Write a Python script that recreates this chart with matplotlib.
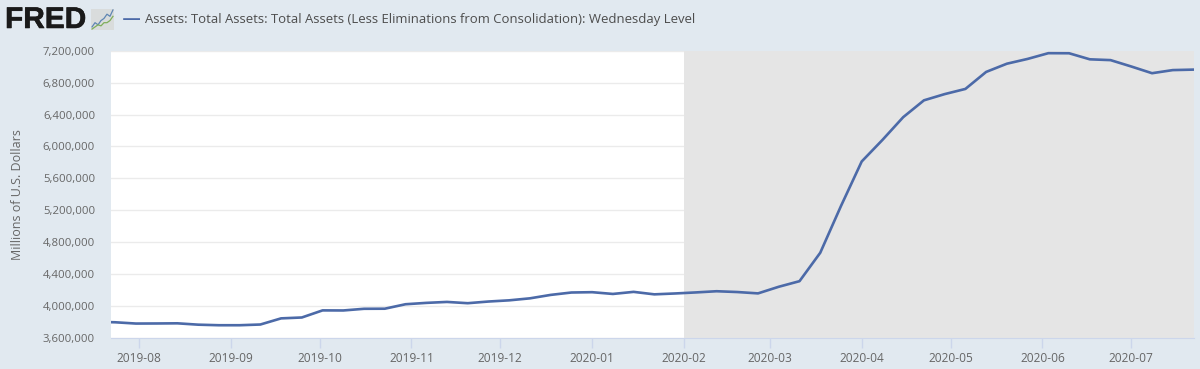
import numpy as np
import pandas as pd
import matplotlib
matplotlib.use('Agg')
import matplotlib.pyplot as plt
import matplotlib.dates as mdates
import matplotlib.patheffects as pe

###########################################################
# data

start_date = '2019-07-17'  # first week is clipped by the axis
assets = [3803000, 3797000, 3781000, 3782000, 3784000, 3767000, 3760000, 3760000,
          3769000, 3846000, 3857000, 3946000, 3945000, 3966000, 3967000, 4023000,
          4040000, 4052000, 4036000, 4057000, 4072000, 4097000, 4140000, 4170000,
          4174000, 4152000, 4178000, 4147000, 4158000, 4171000, 4186000, 4176000,
          4159000, 4242000, 4312000, 4668000, 5254000, 5812000, 6082000, 6367000,
          6578000, 6656000, 6721000, 6934000, 7037000, 7097000, 7169000, 7168000,
          7092000, 7082000, 7002000, 6918000, 6957000, 6963000]
dates = pd.date_range(start_date, periods=len(assets), freq='7D')

yticks = [3600000, 4000000, 4400000, 4800000, 5200000, 5600000, 6000000, 6400000, 6800000, 7200000]
xticks = ['2019-08', '2019-09', '2019-10', '2019-11', '2019-12', '2020-01',
          '2020-02', '2020-03', '2020-04', '2020-05', '2020-06', '2020-07']

recession_start = '2020-02-01'
series_name = 'Assets: Total Assets: Total Assets (Less Eliminations from Consolidation): Wednesday Level'

# little chart icon next to the logo
icon_blue = [1, 3, 2, 4, 5, 7, 6, 9]
icon_green = [0, 1, 2, 1.5, 3, 3, 4, 6]

###########################################################
# plot

plt.rcParams['font.family'] = ['Open Sans', 'DejaVu Sans']

bg = '#e1e9f0'
text_color = '#666666'
line_color = '#4c6aa8'

W, H = 1200, 369
fig = plt.figure(figsize=(W/100, H/100), dpi=100, facecolor=bg)
ax = fig.add_axes([111/W, 1-338/H, (1193.5-111)/W, (338-50.7)/H])
ax.set_facecolor('white')

# shading hides the grid, as in the original
ax.axvspan(pd.Timestamp(recession_start), pd.Timestamp('2020-07-22'), color='#e5e5e5', lw=0, zorder=2)
ax.plot(dates, assets, color=line_color, lw=1.9, zorder=3, solid_joinstyle='round')

ax.set_xlim(pd.Timestamp('2019-07-22 14:00'), pd.Timestamp('2020-07-22'))
ax.set_ylim(yticks[0], yticks[-1])

ax.set_yticks(yticks)
ax.set_yticklabels(['{:,}'.format(v) for v in yticks])
ax.set_xticks([pd.Timestamp(t + '-01') for t in xticks])
ax.xaxis.set_major_formatter(mdates.DateFormatter('%Y-%m'))

ax.grid(axis='y', color='#ebebeb', lw=1, zorder=1)
ax.set_axisbelow(True)
ax.tick_params(axis='y', length=0, pad=11.5, labelsize=8.2, labelcolor=text_color)
ax.tick_params(axis='x', length=7, width=1, color='#ccd6eb', pad=3, labelsize=8.6, labelcolor=text_color)
for s in ['top', 'right', 'left']:
    ax.spines[s].set_visible(False)
ax.spines['bottom'].set_color('#ccd6eb')

fig.text(18/W, 1-195/H, 'Millions of U.S. Dollars', rotation=90, fontsize=9,
         color=text_color, ha='center', va='center')

# header: logo, icon, legend
logo = fig.text(5/W, 1-20/H, 'FRED', fontsize=21.5, fontweight='bold', color='#1a1a1a',
                family='Liberation Sans', ha='left', va='center')
logo.set_path_effects([pe.withStroke(linewidth=0.4, foreground='#1a1a1a')])

icon = fig.add_axes([91/W, 1-30/H, 23/W, 21/H])
icon.set_facecolor('#d9dcdc')
icon.plot(icon_blue, color='#5f86b3', lw=0.9)
icon.plot(icon_green, color='#7fae5a', lw=0.9)
icon.set_xticks([])
icon.set_yticks([])
for s in icon.spines.values():
    s.set_visible(False)

leg = fig.add_axes([123/W, 1-20/H, 17/W, 2/H])
leg.axis('off')
leg.plot([0, 1], [0, 0], color=line_color, lw=1.9)

fig.text(145/W, 1-20/H, series_name, fontsize=9.48, color='#4d4d4d', ha='left', va='center')

fig.savefig('out.png', dpi=100, facecolor=bg)
